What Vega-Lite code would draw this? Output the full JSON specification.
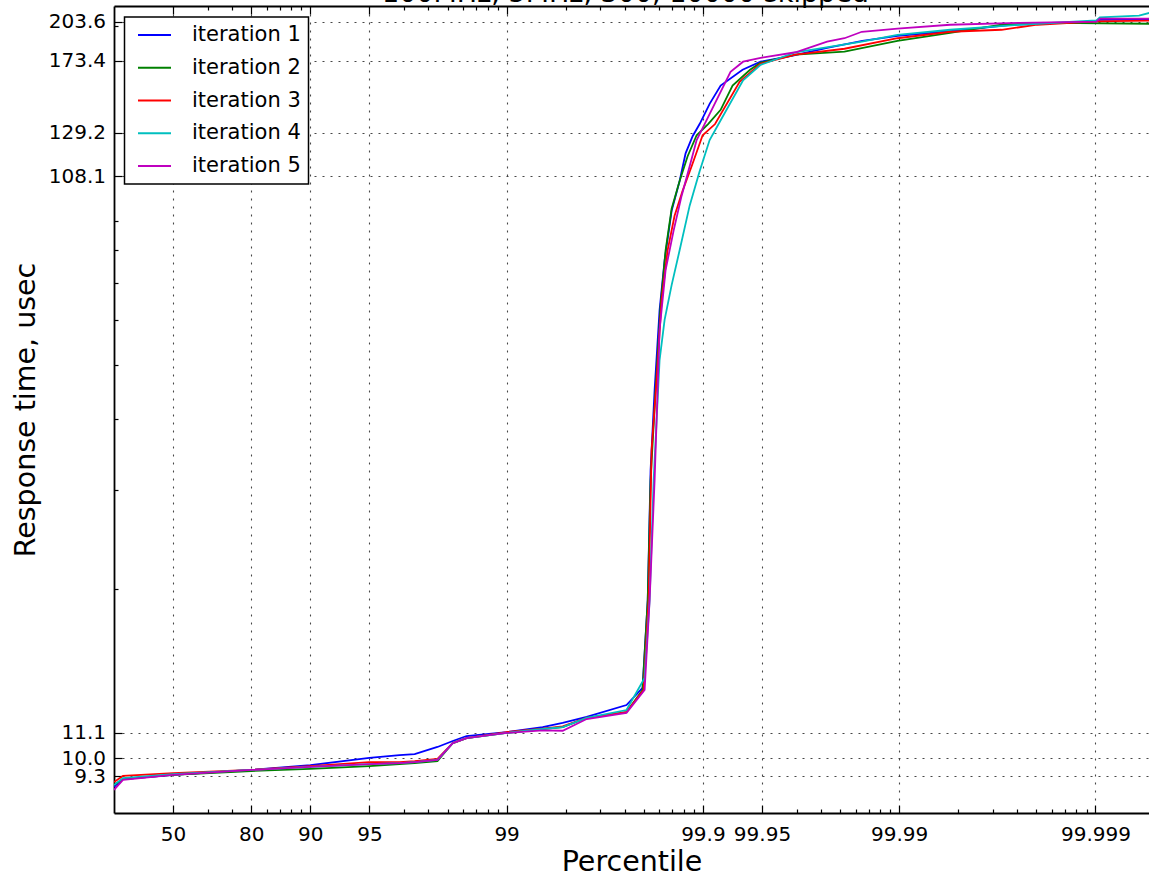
{
  "$schema": "https://vega.github.io/schema/vega-lite/v6.json",
  "width": 1035,
  "height": 807,
  "autosize": {"type": "none"},
  "padding": {"left": 114, "top": 6, "right": 0, "bottom": 67},
  "config": {
    "font": "DejaVu Sans",
    "view": {"stroke": null},
    "legend": {"strokeWidth": 1.5}
  },
  "title": {"text": "100MHz, 5MHz, 300, 10000 skipped", "fontSize": 27, "fontWeight": "normal", "color": "black", "offset": 0, "baseline": "alphabetic", "dx": -6, "dy": 24},
  "data": {"values": [
    {"iteration": "iteration 1", "percentile": 0, "usec": 8.90},
    {"iteration": "iteration 1", "percentile": 10, "usec": 9.19},
    {"iteration": "iteration 1", "percentile": 50, "usec": 9.35},
    {"iteration": "iteration 1", "percentile": 80, "usec": 9.54},
    {"iteration": "iteration 1", "percentile": 90, "usec": 9.73},
    {"iteration": "iteration 1", "percentile": 95, "usec": 10.02},
    {"iteration": "iteration 1", "percentile": 96.49, "usec": 10.14},
    {"iteration": "iteration 1", "percentile": 97.06, "usec": 10.18},
    {"iteration": "iteration 1", "percentile": 97.75, "usec": 10.48},
    {"iteration": "iteration 1", "percentile": 98.12, "usec": 10.74},
    {"iteration": "iteration 1", "percentile": 98.4, "usec": 10.96},
    {"iteration": "iteration 1", "percentile": 99, "usec": 11.14},
    {"iteration": "iteration 1", "percentile": 99.345, "usec": 11.37},
    {"iteration": "iteration 1", "percentile": 99.482, "usec": 11.56},
    {"iteration": "iteration 1", "percentile": 99.609, "usec": 11.85},
    {"iteration": "iteration 1", "percentile": 99.755, "usec": 12.44},
    {"iteration": "iteration 1", "percentile": 99.797, "usec": 13.34},
    {"iteration": "iteration 1", "percentile": 99.809, "usec": 19.12},
    {"iteration": "iteration 1", "percentile": 99.8153, "usec": 32.5},
    {"iteration": "iteration 1", "percentile": 99.8238, "usec": 45.1},
    {"iteration": "iteration 1", "percentile": 99.8338, "usec": 62.6},
    {"iteration": "iteration 1", "percentile": 99.8433, "usec": 76.7},
    {"iteration": "iteration 1", "percentile": 99.8557, "usec": 93.9},
    {"iteration": "iteration 1", "percentile": 99.8686, "usec": 106.1},
    {"iteration": "iteration 1", "percentile": 99.8775, "usec": 118.8},
    {"iteration": "iteration 1", "percentile": 99.8872, "usec": 127.4},
    {"iteration": "iteration 1", "percentile": 99.8961, "usec": 133.9},
    {"iteration": "iteration 1", "percentile": 99.9076, "usec": 145.4},
    {"iteration": "iteration 1", "percentile": 99.9188, "usec": 156.7},
    {"iteration": "iteration 1", "percentile": 99.9372, "usec": 167.2},
    {"iteration": "iteration 1", "percentile": 99.9492, "usec": 172.8},
    {"iteration": "iteration 1", "percentile": 99.9647, "usec": 177.0},
    {"iteration": "iteration 1", "percentile": 99.9767, "usec": 182.9},
    {"iteration": "iteration 1", "percentile": 99.9846, "usec": 188.2},
    {"iteration": "iteration 1", "percentile": 99.9898, "usec": 192.1},
    {"iteration": "iteration 1", "percentile": 99.9945, "usec": 195.7},
    {"iteration": "iteration 1", "percentile": 99.99736, "usec": 201.0},
    {"iteration": "iteration 1", "percentile": 99.99901, "usec": 203.7},
    {"iteration": "iteration 1", "percentile": 99.99905, "usec": 205.1},
    {"iteration": "iteration 1", "percentile": 99.99947, "usec": 205.5},

    {"iteration": "iteration 2", "percentile": 0, "usec": 8.97},
    {"iteration": "iteration 2", "percentile": 10, "usec": 9.19},
    {"iteration": "iteration 2", "percentile": 50, "usec": 9.35},
    {"iteration": "iteration 2", "percentile": 80, "usec": 9.50},
    {"iteration": "iteration 2", "percentile": 90, "usec": 9.58},
    {"iteration": "iteration 2", "percentile": 95, "usec": 9.69},
    {"iteration": "iteration 2", "percentile": 96.49, "usec": 9.77},
    {"iteration": "iteration 2", "percentile": 97.06, "usec": 9.81},
    {"iteration": "iteration 2", "percentile": 97.75, "usec": 9.89},
    {"iteration": "iteration 2", "percentile": 98.12, "usec": 10.65},
    {"iteration": "iteration 2", "percentile": 98.4, "usec": 10.87},
    {"iteration": "iteration 2", "percentile": 99, "usec": 11.10},
    {"iteration": "iteration 2", "percentile": 99.345, "usec": 11.28},
    {"iteration": "iteration 2", "percentile": 99.482, "usec": 11.37},
    {"iteration": "iteration 2", "percentile": 99.609, "usec": 11.80},
    {"iteration": "iteration 2", "percentile": 99.755, "usec": 12.09},
    {"iteration": "iteration 2", "percentile": 99.797, "usec": 13.23},
    {"iteration": "iteration 2", "percentile": 99.809, "usec": 19.12},
    {"iteration": "iteration 2", "percentile": 99.8153, "usec": 31.2},
    {"iteration": "iteration 2", "percentile": 99.8258, "usec": 45.1},
    {"iteration": "iteration 2", "percentile": 99.8358, "usec": 63.8},
    {"iteration": "iteration 2", "percentile": 99.8451, "usec": 79.9},
    {"iteration": "iteration 2", "percentile": 99.8557, "usec": 94.7},
    {"iteration": "iteration 2", "percentile": 99.8686, "usec": 106.1},
    {"iteration": "iteration 2", "percentile": 99.8804, "usec": 117.4},
    {"iteration": "iteration 2", "percentile": 99.8924, "usec": 127.9},
    {"iteration": "iteration 2", "percentile": 99.9059, "usec": 133.9},
    {"iteration": "iteration 2", "percentile": 99.9188, "usec": 141.9},
    {"iteration": "iteration 2", "percentile": 99.9294, "usec": 156.7},
    {"iteration": "iteration 2", "percentile": 99.9425, "usec": 167.2},
    {"iteration": "iteration 2", "percentile": 99.9492, "usec": 172.1},
    {"iteration": "iteration 2", "percentile": 99.9663, "usec": 177.8},
    {"iteration": "iteration 2", "percentile": 99.981, "usec": 180.0},
    {"iteration": "iteration 2", "percentile": 99.9898, "usec": 188.2},
    {"iteration": "iteration 2", "percentile": 99.9945, "usec": 194.5},
    {"iteration": "iteration 2", "percentile": 99.99699, "usec": 201.0},
    {"iteration": "iteration 2", "percentile": 99.99838, "usec": 202.6},
    {"iteration": "iteration 2", "percentile": 99.99947, "usec": 201.8},

    {"iteration": "iteration 3", "percentile": 0, "usec": 9.08},
    {"iteration": "iteration 3", "percentile": 10, "usec": 9.31},
    {"iteration": "iteration 3", "percentile": 50, "usec": 9.42},
    {"iteration": "iteration 3", "percentile": 80, "usec": 9.54},
    {"iteration": "iteration 3", "percentile": 90, "usec": 9.69},
    {"iteration": "iteration 3", "percentile": 95, "usec": 9.85},
    {"iteration": "iteration 3", "percentile": 96.49, "usec": 9.85},
    {"iteration": "iteration 3", "percentile": 97.06, "usec": 9.89},
    {"iteration": "iteration 3", "percentile": 97.75, "usec": 9.98},
    {"iteration": "iteration 3", "percentile": 98.12, "usec": 10.65},
    {"iteration": "iteration 3", "percentile": 98.4, "usec": 10.87},
    {"iteration": "iteration 3", "percentile": 99, "usec": 11.14},
    {"iteration": "iteration 3", "percentile": 99.345, "usec": 11.30},
    {"iteration": "iteration 3", "percentile": 99.482, "usec": 11.40},
    {"iteration": "iteration 3", "percentile": 99.609, "usec": 11.80},
    {"iteration": "iteration 3", "percentile": 99.755, "usec": 12.09},
    {"iteration": "iteration 3", "percentile": 99.7995, "usec": 13.23},
    {"iteration": "iteration 3", "percentile": 99.8109, "usec": 19.12},
    {"iteration": "iteration 3", "percentile": 99.8175, "usec": 35.3},
    {"iteration": "iteration 3", "percentile": 99.8279, "usec": 47.0},
    {"iteration": "iteration 3", "percentile": 99.8377, "usec": 65.2},
    {"iteration": "iteration 3", "percentile": 99.8487, "usec": 79.9},
    {"iteration": "iteration 3", "percentile": 99.8606, "usec": 92.0},
    {"iteration": "iteration 3", "percentile": 99.8731, "usec": 101.9},
    {"iteration": "iteration 3", "percentile": 99.8859, "usec": 112.7},
    {"iteration": "iteration 3", "percentile": 99.8997, "usec": 127.9},
    {"iteration": "iteration 3", "percentile": 99.9133, "usec": 133.9},
    {"iteration": "iteration 3", "percentile": 99.935, "usec": 159.2},
    {"iteration": "iteration 3", "percentile": 99.9492, "usec": 171.4},
    {"iteration": "iteration 3", "percentile": 99.9663, "usec": 177.8},
    {"iteration": "iteration 3", "percentile": 99.981, "usec": 182.2},
    {"iteration": "iteration 3", "percentile": 99.9898, "usec": 190.2},
    {"iteration": "iteration 3", "percentile": 99.9945, "usec": 195.3},
    {"iteration": "iteration 3", "percentile": 99.99699, "usec": 196.9},
    {"iteration": "iteration 3", "percentile": 99.99802, "usec": 201.0},
    {"iteration": "iteration 3", "percentile": 99.99901, "usec": 203.7},
    {"iteration": "iteration 3", "percentile": 99.99947, "usec": 204.4},

    {"iteration": "iteration 4", "percentile": 0, "usec": 8.97},
    {"iteration": "iteration 4", "percentile": 10, "usec": 9.23},
    {"iteration": "iteration 4", "percentile": 50, "usec": 9.38},
    {"iteration": "iteration 4", "percentile": 80, "usec": 9.54},
    {"iteration": "iteration 4", "percentile": 90, "usec": 9.66},
    {"iteration": "iteration 4", "percentile": 95, "usec": 9.77},
    {"iteration": "iteration 4", "percentile": 96.49, "usec": 9.81},
    {"iteration": "iteration 4", "percentile": 97.06, "usec": 9.85},
    {"iteration": "iteration 4", "percentile": 97.75, "usec": 9.94},
    {"iteration": "iteration 4", "percentile": 98.12, "usec": 10.65},
    {"iteration": "iteration 4", "percentile": 98.4, "usec": 10.87},
    {"iteration": "iteration 4", "percentile": 99, "usec": 11.10},
    {"iteration": "iteration 4", "percentile": 99.345, "usec": 11.28},
    {"iteration": "iteration 4", "percentile": 99.482, "usec": 11.37},
    {"iteration": "iteration 4", "percentile": 99.609, "usec": 11.80},
    {"iteration": "iteration 4", "percentile": 99.755, "usec": 12.19},
    {"iteration": "iteration 4", "percentile": 99.8019, "usec": 13.90},
    {"iteration": "iteration 4", "percentile": 99.8132, "usec": 19.12},
    {"iteration": "iteration 4", "percentile": 99.8218, "usec": 31.2},
    {"iteration": "iteration 4", "percentile": 99.8338, "usec": 51.0},
    {"iteration": "iteration 4", "percentile": 99.8433, "usec": 60.1},
    {"iteration": "iteration 4", "percentile": 99.8557, "usec": 69.3},
    {"iteration": "iteration 4", "percentile": 99.8686, "usec": 79.9},
    {"iteration": "iteration 4", "percentile": 99.8832, "usec": 95.9},
    {"iteration": "iteration 4", "percentile": 99.8961, "usec": 110.4},
    {"iteration": "iteration 4", "percentile": 99.9076, "usec": 125.4},
    {"iteration": "iteration 4", "percentile": 99.9168, "usec": 133.9},
    {"iteration": "iteration 4", "percentile": 99.9376, "usec": 160.2},
    {"iteration": "iteration 4", "percentile": 99.9492, "usec": 170.6},
    {"iteration": "iteration 4", "percentile": 99.9663, "usec": 179.6},
    {"iteration": "iteration 4", "percentile": 99.9845, "usec": 187.5},
    {"iteration": "iteration 4", "percentile": 99.9898, "usec": 192.9},
    {"iteration": "iteration 4", "percentile": 99.9945, "usec": 196.9},
    {"iteration": "iteration 4", "percentile": 99.99756, "usec": 201.0},
    {"iteration": "iteration 4", "percentile": 99.99901, "usec": 204.5},
    {"iteration": "iteration 4", "percentile": 99.99905, "usec": 207.2},
    {"iteration": "iteration 4", "percentile": 99.9994, "usec": 208.6},
    {"iteration": "iteration 4", "percentile": 99.99947, "usec": 211.0},

    {"iteration": "iteration 5", "percentile": 0, "usec": 8.79},
    {"iteration": "iteration 5", "percentile": 10, "usec": 9.16},
    {"iteration": "iteration 5", "percentile": 50, "usec": 9.35},
    {"iteration": "iteration 5", "percentile": 80, "usec": 9.54},
    {"iteration": "iteration 5", "percentile": 90, "usec": 9.66},
    {"iteration": "iteration 5", "percentile": 95, "usec": 9.77},
    {"iteration": "iteration 5", "percentile": 96.49, "usec": 9.81},
    {"iteration": "iteration 5", "percentile": 97.06, "usec": 9.85},
    {"iteration": "iteration 5", "percentile": 97.75, "usec": 9.94},
    {"iteration": "iteration 5", "percentile": 98.12, "usec": 10.65},
    {"iteration": "iteration 5", "percentile": 98.4, "usec": 10.87},
    {"iteration": "iteration 5", "percentile": 99, "usec": 11.10},
    {"iteration": "iteration 5", "percentile": 99.345, "usec": 11.22},
    {"iteration": "iteration 5", "percentile": 99.482, "usec": 11.20},
    {"iteration": "iteration 5", "percentile": 99.609, "usec": 11.75},
    {"iteration": "iteration 5", "percentile": 99.755, "usec": 12.05},
    {"iteration": "iteration 5", "percentile": 99.8019, "usec": 13.23},
    {"iteration": "iteration 5", "percentile": 99.8132, "usec": 19.12},
    {"iteration": "iteration 5", "percentile": 99.8238, "usec": 31.2},
    {"iteration": "iteration 5", "percentile": 99.8338, "usec": 57.7},
    {"iteration": "iteration 5", "percentile": 99.8451, "usec": 73.7},
    {"iteration": "iteration 5", "percentile": 99.859, "usec": 86.6},
    {"iteration": "iteration 5", "percentile": 99.8716, "usec": 99.8},
    {"iteration": "iteration 5", "percentile": 99.8832, "usec": 112.7},
    {"iteration": "iteration 5", "percentile": 99.8924, "usec": 125.4},
    {"iteration": "iteration 5", "percentile": 99.902, "usec": 133.9},
    {"iteration": "iteration 5", "percentile": 99.9277, "usec": 165.8},
    {"iteration": "iteration 5", "percentile": 99.9376, "usec": 172.8},
    {"iteration": "iteration 5", "percentile": 99.9492, "usec": 175.6},
    {"iteration": "iteration 5", "percentile": 99.9663, "usec": 179.6},
    {"iteration": "iteration 5", "percentile": 99.9767, "usec": 187.5},
    {"iteration": "iteration 5", "percentile": 99.981, "usec": 190.2},
    {"iteration": "iteration 5", "percentile": 99.9845, "usec": 195.3},
    {"iteration": "iteration 5", "percentile": 99.9898, "usec": 197.9},
    {"iteration": "iteration 5", "percentile": 99.9945, "usec": 201.0},
    {"iteration": "iteration 5", "percentile": 99.99756, "usec": 202.6},
    {"iteration": "iteration 5", "percentile": 99.99901, "usec": 203.5},
    {"iteration": "iteration 5", "percentile": 99.99905, "usec": 206.0},
    {"iteration": "iteration 5", "percentile": 99.99947, "usec": 206.0}
  ]},
  "transform": [{"calculate": "100/(100-datum.percentile)", "as": "odds"}],
  "resolve": {"axis": {"x": "independent"}},
  "layer": [
    {
      "mark": {"type": "line", "strokeWidth": 1.8, "clip": true},
      "encoding": {
        "x": {
          "field": "odds", "type": "quantitative",
          "scale": {"type": "log", "domain": [1, 187330], "nice": false},
          "axis": {
            "orient": "bottom",
            "title": "Percentile", "titleFontSize": 28.5, "titleFontWeight": "normal", "titleColor": "black",
            "titleBaseline": "alphabetic", "titleY": 57,
            "values": [2,3,4,5,6,7,8,9,10,20,30,40,50,60,70,80,90,100,200,300,400,500,600,700,800,900,1000,2000,3000,4000,5000,6000,7000,8000,9000,10000,20000,30000,40000,50000,60000,70000,80000,90000,100000],
            "labelExpr": "indexof([2,5,10,20,100,1000,2000,10000,100000], datum.value) >= 0 ? format(100 - 100/datum.value, '.6~r') : ''",
            "labelFontSize": 20, "labelColor": "black", "labelPadding": 19, "labelOverlap": false, "labelFlush": false, "labelBound": false, "labelBaseline": "top",
            "tickSize": {"condition": {"test": "indexof([2,5,10,20,100,1000,2000,10000,100000], datum.value) >= 0", "value": -8}, "value": -4},
            "tickColor": "black", "tickWidth": 1.2,
            "domainColor": "black", "domainWidth": 1.8,
            "grid": true, "gridColor": "#333333", "gridDash": [2, 6], "gridWidth": 1.1,
            "gridOpacity": {"condition": {"test": "indexof([2,5,10,20,100,1000,2000,10000,100000], datum.value) >= 0", "value": 0.9}, "value": 0}
          }
        },
        "y": {
          "field": "usec", "type": "quantitative",
          "scale": {"type": "log", "domain": [8, 217], "nice": false},
          "axis": {
            "title": "Response time, usec", "titleFontSize": 28.5, "titleFontWeight": "normal", "titleColor": "black",
            "titleBaseline": "alphabetic", "titleX": -80,
            "values": [9, 9.3, 10, 11.1, 20, 30, 40, 50, 60, 70, 80, 90, 108.1, 129.2, 173.4, 200, 203.6],
            "labelExpr": "indexof([9.3,10,11.1,108.1,129.2,173.4,203.6], datum.value) >= 0 ? format(datum.value, '.1f') : ''",
            "labelFontSize": 20, "labelColor": "black", "labelPadding": 16.5, "labelOverlap": false, "labelFlush": false, "labelBound": false,
            "tickSize": {"condition": {"test": "indexof([9.3,10,11.1,108.1,129.2,173.4,203.6], datum.value) >= 0", "value": -8}, "value": -4},
            "tickColor": "black", "tickWidth": 1.2,
            "domainColor": "black", "domainWidth": 1.8,
            "grid": true, "gridColor": "#333333", "gridDash": [2, 6], "gridWidth": 1.1,
            "gridOpacity": {"condition": {"test": "indexof([9.3,10,11.1,108.1,129.2,173.4,203.6], datum.value) >= 0", "value": 0.9}, "value": 0}
          }
        },
        "color": {
          "field": "iteration", "type": "nominal",
          "scale": {"domain": ["iteration 1", "iteration 2", "iteration 3", "iteration 4", "iteration 5"], "range": ["#0000ff", "#008000", "#ff0000", "#00bfbf", "#bf00bf"]},
          "legend": {
            "orient": "none", "legendX": 10.5, "legendY": 11, "title": null,
            "symbolType": "M-3.3,0H3.3", "symbolSize": 100, "symbolStrokeWidth": 2,
            "labelFontSize": 21, "labelColor": "black", "labelOffset": 27, "symbolOffset": 11.9,
            "rowPadding": 10.7, "padding": 7.6,
            "strokeColor": "black", "fillColor": "white", "cornerRadius": 0
          }
        }
      }
    },
    {
      "data": {"values": [{"odds": 2}]},
      "mark": {"type": "rule", "strokeOpacity": 0},
      "encoding": {
        "x": {
          "field": "odds", "type": "quantitative",
          "axis": {
            "orient": "top", "title": null, "labels": false, "grid": false,
            "values": [2,3,4,5,6,7,8,9,10,20,30,40,50,60,70,80,90,100,200,300,400,500,600,700,800,900,1000,2000,3000,4000,5000,6000,7000,8000,9000,10000,20000,30000,40000,50000,60000,70000,80000,90000,100000],
            "tickSize": {"condition": {"test": "indexof([2,5,10,20,100,1000,2000,10000,100000], datum.value) >= 0", "value": -8}, "value": -4},
            "tickColor": "black", "tickWidth": 1.2,
            "domainColor": "black", "domainWidth": 1.8
          }
        }
      }
    }
  ]
}
